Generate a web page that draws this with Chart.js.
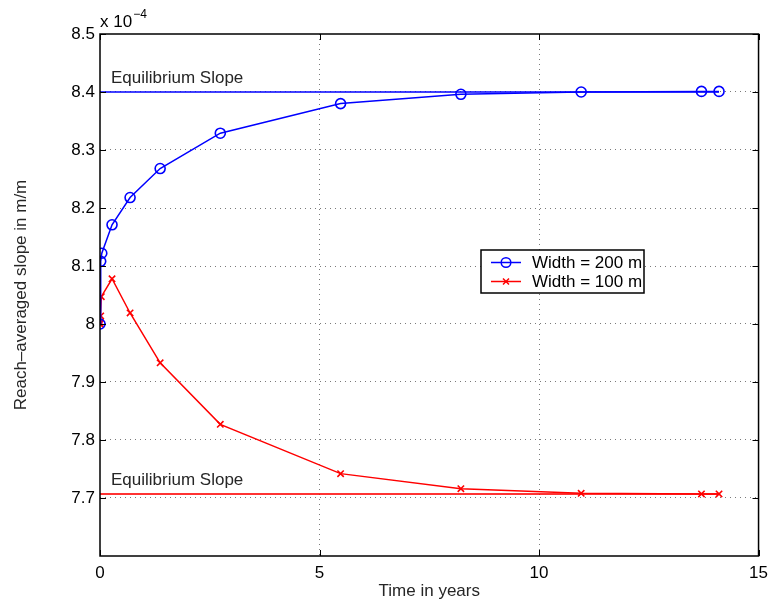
<!DOCTYPE html>
<html>
<head>
<meta charset="utf-8">
<title>Reach-averaged slope</title>
<script src="https://cdn.jsdelivr.net/npm/chart.js@4/dist/chart.umd.min.js"></script>
<style>
  html, body { margin: 0; padding: 0; background: #fff; }
  #wrap { width: 775px; height: 604px; }
</style>
</head>
<body>
<div id="wrap"><canvas id="slopeChart" width="775" height="604"></canvas></div>
<script>
// slope values are in units of 1e-4 m/m
const timeWide = [0, 0.016, 0.041, 0.274, 0.685, 1.37, 2.74, 5.48, 8.22, 10.96, 13.70, 14.10];
const slopeWide = [8.000, 8.108, 8.122, 8.171, 8.218, 8.268, 8.329, 8.380, 8.396, 8.400, 8.401, 8.401];

const timeNarrow = [0, 0.005, 0.016, 0.030, 0.274, 0.685, 1.37, 2.74, 5.48, 8.22, 10.96, 13.70, 14.10];
const slopeNarrow = [8.000, 8.003, 8.014, 8.047, 8.078, 8.019, 7.933, 7.827, 7.742, 7.716, 7.708, 7.707, 7.707];

const eqWide = 8.40;
const eqNarrow = 7.707;
const eqSpan = [0, 14.10];

const xTicks = [0, 5, 10, 15];
const yTicks = [7.7, 7.8, 7.9, 8.0, 8.1, 8.2, 8.3, 8.4, 8.5];

const seriesLabels = ['Width = 200 m', 'Width = 100 m'];
const eqLabel = 'Equilibrium Slope';

const BLUE = '#0000ff';
const RED = '#ff0000';
const GRID = '#7a7a7a';
const FONT = '"Liberation Sans", Arial, Helvetica, sans-serif';

const toPoints = (xs, ys) => xs.map((x, i) => ({ x: x, y: ys[i] }));

// box, inward tick marks, equilibrium captions, exponent and legend
const decorations = {
  id: 'decorations',
  afterDatasetsDraw(chart) {
    const { ctx, chartArea: a, scales } = chart;
    const xs = scales.x, ys = scales.y;
    ctx.save();

    // inward ticks on all four sides
    ctx.strokeStyle = '#000';
    ctx.lineWidth = 1;
    ctx.beginPath();
    xTicks.forEach(v => {
      const px = Math.round(xs.getPixelForValue(v)) + 0.5;
      ctx.moveTo(px, a.bottom); ctx.lineTo(px, a.bottom - 6);
      ctx.moveTo(px, a.top); ctx.lineTo(px, a.top + 6);
    });
    yTicks.forEach(v => {
      const py = Math.round(ys.getPixelForValue(v)) + 0.5;
      ctx.moveTo(a.left, py); ctx.lineTo(a.left + 6, py);
      ctx.moveTo(a.right, py); ctx.lineTo(a.right - 6, py);
    });
    ctx.stroke();

    // axes box
    ctx.lineWidth = 1.5;
    ctx.strokeRect(a.left, a.top, a.right - a.left, a.bottom - a.top);

    // equilibrium captions
    ctx.fillStyle = '#262626';
    ctx.font = '17px ' + FONT;
    ctx.textAlign = 'left';
    ctx.textBaseline = 'alphabetic';
    const capX = xs.getPixelForValue(0) + 11;
    ctx.fillText(eqLabel, capX, ys.getPixelForValue(eqWide) - 9);
    ctx.fillText(eqLabel, capX, ys.getPixelForValue(eqNarrow) - 9);

    // exponent above the y axis
    ctx.fillStyle = '#000';
    ctx.fillText('x 10', a.left, 27);
    const w = ctx.measureText('x 10').width;
    ctx.font = '12px ' + FONT;
    ctx.fillText('\u22124', a.left + w + 1, 18);

    // legend
    const lx = 481, ly = 250, lw = 163, lh = 43;
    ctx.fillStyle = '#fff';
    ctx.fillRect(lx, ly, lw, lh);
    ctx.lineWidth = 1.5;
    ctx.strokeStyle = '#000';
    ctx.strokeRect(lx, ly, lw, lh);
    const rows = [
      { label: seriesLabels[0], color: BLUE, y: ly + 12.5, marker: 'circle' },
      { label: seriesLabels[1], color: RED, y: ly + 31.5, marker: 'x' }
    ];
    rows.forEach(r => {
      ctx.strokeStyle = r.color;
      ctx.lineWidth = 1.5;
      ctx.beginPath();
      ctx.moveTo(lx + 10, r.y); ctx.lineTo(lx + 40, r.y);
      ctx.stroke();
      const cx = lx + 25;
      ctx.beginPath();
      if (r.marker === 'circle') {
        ctx.arc(cx, r.y, 4.8, 0, Math.PI * 2);
      } else {
        ctx.moveTo(cx - 3, r.y - 3); ctx.lineTo(cx + 3, r.y + 3);
        ctx.moveTo(cx - 3, r.y + 3); ctx.lineTo(cx + 3, r.y - 3);
      }
      ctx.stroke();
      ctx.fillStyle = '#000';
      ctx.font = '17px ' + FONT;
      ctx.textBaseline = 'middle';
      ctx.fillText(r.label, lx + 51, r.y + 1);
    });
    ctx.restore();
  }
};

new Chart(document.getElementById('slopeChart'), {
  type: 'line',
  data: {
    datasets: [
      {
        label: seriesLabels[0],
        data: toPoints(timeWide, slopeWide),
        borderColor: BLUE,
        backgroundColor: 'rgba(0,0,0,0)',
        borderWidth: 1.5,
        pointStyle: 'circle',
        pointRadius: 5,
        pointBorderWidth: 1.6,
        pointBorderColor: BLUE,
        pointBackgroundColor: 'rgba(0,0,0,0)',
        tension: 0
      },
      {
        label: seriesLabels[1],
        data: toPoints(timeNarrow, slopeNarrow),
        borderColor: RED,
        backgroundColor: 'rgba(0,0,0,0)',
        borderWidth: 1.5,
        pointStyle: 'crossRot',
        pointRadius: 4.5,
        pointBorderWidth: 1.6,
        pointBorderColor: RED,
        tension: 0
      },
      {
        label: 'eq-wide',
        data: toPoints(eqSpan, [eqWide, eqWide]),
        borderColor: BLUE,
        borderWidth: 1.6,
        pointRadius: 0
      },
      {
        label: 'eq-narrow',
        data: toPoints(eqSpan, [eqNarrow, eqNarrow]),
        borderColor: 'rgba(255,0,0,0.8)',
        borderWidth: 2,
        pointRadius: 0
      }
    ]
  },
  options: {
    responsive: false,
    animation: false,
    devicePixelRatio: 1,
    events: [],
    layout: { padding: { top: 34, right: 14, left: 0, bottom: 0 } },
    plugins: {
      legend: { display: false },
      tooltip: { enabled: false }
    },
    scales: {
      x: {
        type: 'linear',
        min: 0,
        max: 15,
        border: { display: false, dash: [1, 4] },
        grid: {
          drawTicks: false,
          lineWidth: 1,
          color: ctx => (ctx.tick && (ctx.tick.value === 0 || ctx.tick.value === 15)) ? 'rgba(0,0,0,0)' : GRID
        },
        afterBuildTicks: scale => { scale.ticks = xTicks.map(v => ({ value: v })); },
        afterFit: scale => { scale.height = 48; },
        ticks: {
          color: '#000',
          font: { family: FONT, size: 17 },
          padding: 7,
          maxRotation: 0,
          callback: v => String(v)
        },
        title: {
          display: true,
          text: 'Time in years',
          color: '#262626',
          font: { family: FONT, size: 17 },
          padding: { top: 0, bottom: 2 }
        }
      },
      y: {
        type: 'linear',
        min: 7.6,
        max: 8.5,
        border: { display: false, dash: [1, 4] },
        grid: {
          drawTicks: false,
          lineWidth: 1,
          color: ctx => (ctx.tick && Math.abs(ctx.tick.value - 8.5) < 1e-9) ? 'rgba(0,0,0,0)' : GRID
        },
        afterBuildTicks: scale => { scale.ticks = yTicks.map(v => ({ value: v })); },
        afterFit: scale => { scale.width = 100; },
        ticks: {
          color: '#000',
          font: { family: FONT, size: 17 },
          padding: 5,
          callback: v => String(Number(v.toFixed(1)))
        },
        title: {
          display: true,
          text: 'Reach\u2013averaged slope in m/m',
          color: '#262626',
          font: { family: FONT, size: 17 },
          padding: { top: 11, bottom: 0 }
        }
      }
    }
  },
  plugins: [decorations]
});
</script>
</body>
</html>
